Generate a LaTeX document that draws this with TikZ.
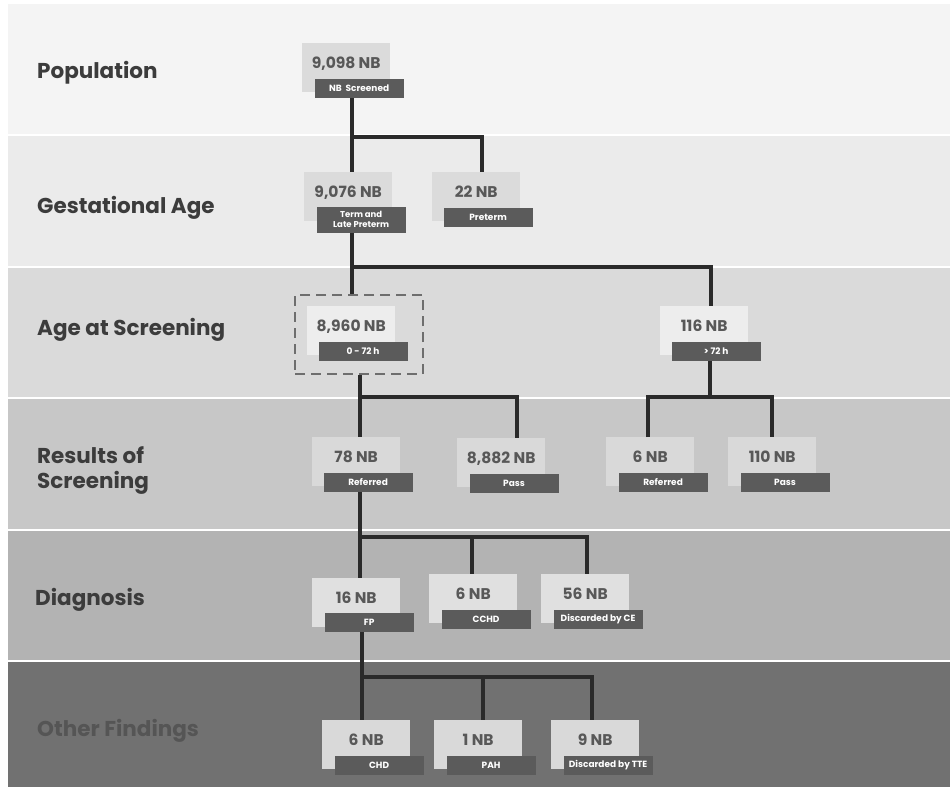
\documentclass[tikz,border=0pt]{standalone}
\usepackage{fontspec}
\setmainfont{Poppins}
\usetikzlibrary{positioning}
\definecolor{bandA}{HTML}{F4F4F4}
\definecolor{bandB}{HTML}{EBEBEB}
\definecolor{bandC}{HTML}{DADADA}
\definecolor{bandD}{HTML}{C7C7C7}
\definecolor{bandE}{HTML}{B3B3B3}
\definecolor{bandF}{HTML}{717171}
\definecolor{wire}{HTML}{2A2A2A}
\definecolor{tagfill}{HTML}{5B5B5B}
\definecolor{numtext}{HTML}{585858}
\definecolor{stagetext}{HTML}{3C3C3C}
\definecolor{dimtext}{HTML}{555555}
\definecolor{dashgray}{HTML}{6E6E6E}

\begin{document}
\begin{tikzpicture}[x=1pt, y=-1pt,
    numbox/.style={rectangle, anchor=north west, minimum width=88pt, minimum height=49pt,
      inner sep=0pt, text height=11pt, text depth=9.5pt, text=numtext,
      font=\bfseries\fontsize{15.5}{15.5}\selectfont},
    tagbox/.style={rectangle, fill=tagfill, minimum width=89pt, minimum height=19pt,
      inner sep=0.5pt, align=center, text=white, font=\bfseries\fontsize{9}{10}\selectfont},
    link/.style={line width=4.5pt, wire},
    stage/.style={anchor=west, align=left, inner sep=0pt, text=stagetext,
      font=\bfseries\fontsize{21.5}{25}\selectfont}
  ]
    \fill[white] (0,0) rectangle (950,787);
    \useasboundingbox (0,0) rectangle (950,787);

    % stage bands
    \foreach \ytop/\ybot/\col in {4/134/bandA, 136/266/bandB, 268/397/bandC,
        399/529/bandD, 531/660/bandE, 662/787/bandF}
      \fill[\col] (8,\ytop) rectangle (950,\ybot);

    \node[stage] (lpop)   at (37,73)  {Population};
    \node[stage] (lgest)  at (37,208) {Gestational Age};
    \node[stage] (lage)   at (37,330) {Age at Screening};
    \node[stage] (lres)   at (37,471) {Results of\\Screening};
    \node[stage] (ldiag)  at (35,600) {Diagnosis};
    \node[stage, text=dimtext] (lother) at (37,731) {Other Findings};

    % selected group
    \node[rectangle, anchor=north west, minimum width=128pt, minimum height=79pt,
      draw=dashgray, line width=2.3pt, dash pattern=on 10pt off 6pt] (sel) at (294,294) {};

    % population / gestational age
    \node[numbox, fill=black!14] (n1) at (302,43) {9,098 NB};
    \node[tagbox, below right=-14pt and -76pt of n1] (n1t) {NB~ Screened};
    \node[numbox, fill=black!14] (n2) at (304,172) {9,076 NB};
    \node[tagbox, minimum height=26pt, below right=-15pt and -76pt of n2, font=\bfseries\fontsize{8.5}{10.5}\selectfont] (n2t) {Term and\\Late Preterm};
    \node[numbox, fill=black!14] (n3) at (432,172) {22 NB};
    \node[tagbox, below right=-14pt and -77pt of n3] (n3t) {Preterm};

    % age at screening
    \node[numbox, fill=black!7] (n4) at (307,306) {8,960 NB};
    \node[tagbox, below right=-14pt and -77pt of n4] (n4t) {0 - 72 h};
    \node[numbox, fill=black!7] (n5) at (660,306) {116 NB};
    \node[tagbox, below right=-14pt and -77pt of n5] (n5t) {> 72 h};

    % results of screening
    \node[numbox, fill=black!15] (n6) at (312,437) {78 NB};
    \node[tagbox, below right=-14pt and -77pt of n6] (n6t) {Referred};
    \node[numbox, fill=black!15] (n7) at (457,438) {8,882 NB};
    \node[tagbox, below right=-14pt and -76pt of n7] (n7t) {Pass};
    \node[numbox, fill=black!15] (n8) at (606,437) {6 NB};
    \node[tagbox, below right=-14pt and -76pt of n8] (n8t) {Referred};
    \node[numbox, fill=black!15] (n9) at (728,437) {110 NB};
    \node[tagbox, below right=-14pt and -76pt of n9] (n9t) {Pass};

    % diagnosis
    \node[numbox, fill=black!12] (n10) at (312,578) {16 NB};
    \node[tagbox, below right=-15pt and -76pt of n10] (n10t) {FP};
    \node[numbox, fill=black!12] (n11) at (429,574) {6 NB};
    \node[tagbox, below right=-14pt and -76pt of n11] (n11t) {CCHD};
    \node[numbox, fill=black!12] (n12) at (541,574) {56 NB};
    \node[tagbox, below right=-14pt and -76pt of n12] (n12t) {Discarded by CE};

    % other findings
    \node[numbox, fill=black!15] (n13) at (322,720) {6 NB};
    \node[tagbox, below right=-14pt and -76pt of n13] (n13t) {CHD};
    \node[numbox, fill=black!15] (n14) at (434,720) {1 NB};
    \node[tagbox, below right=-14pt and -76pt of n14] (n14t) {PAH};
    \node[numbox, fill=black!15] (n15) at (551,720) {9 NB};
    \node[tagbox, below right=-14pt and -76pt of n15] (n15t) {Discarded by TTE};

    % junctions
    \coordinate (j1) at (352,137);  \coordinate (j1r) at (482,137);
    \coordinate (j2) at (352,267);  \coordinate (j2r) at (711,267);
    \coordinate (j3) at (360,397);  \coordinate (j3r) at (517,397);
    \coordinate (j4l) at (648,397); \coordinate (j4) at (710,397); \coordinate (j4r) at (772,397);
    \coordinate (j5) at (360,537);  \coordinate (j5m) at (472,537); \coordinate (j5r) at (587,537);
    \coordinate (j6) at (362,677);  \coordinate (j6m) at (483,677); \coordinate (j6r) at (592,677);

    \draw[link] (n1t.south -| j1) -- (j1) -- (j1r) -- (n3.north -| j1r);
    \draw[link] (j1) -- (n2.north -| j1);

    \draw[link] (n2t.south -| j2) -- (j2) -- (j2r) -- (n5.north -| j2r);
    \draw[link] (j2) -- (sel.north -| j2);

    \draw[link] (sel.south -| j3) -- (j3) -- (j3r) -- (n7.north -| j3r);
    \draw[link] (j3) -- (n6.north -| j3);

    \draw[link] (n8.north -| j4l) -- (j4l) -- (j4r) -- (n9.north -| j4r);
    \draw[link] (n5t.south -| j4) -- (j4);

    \draw[link] (n6t.south -| j5) -- (j5) -- (j5r) -- (n12.north -| j5r);
    \draw[link] (j5) -- (n10.north -| j5);
    \draw[link] (j5m) -- (n11.north -| j5m);

    \draw[link] (n10t.south -| j6) -- (j6) -- (j6r) -- (n15.north -| j6r);
    \draw[link] (j6) -- (n13.north -| j6);
    \draw[link] (j6m) -- (n14.north -| j6m);
  \end{tikzpicture}
\end{document}
